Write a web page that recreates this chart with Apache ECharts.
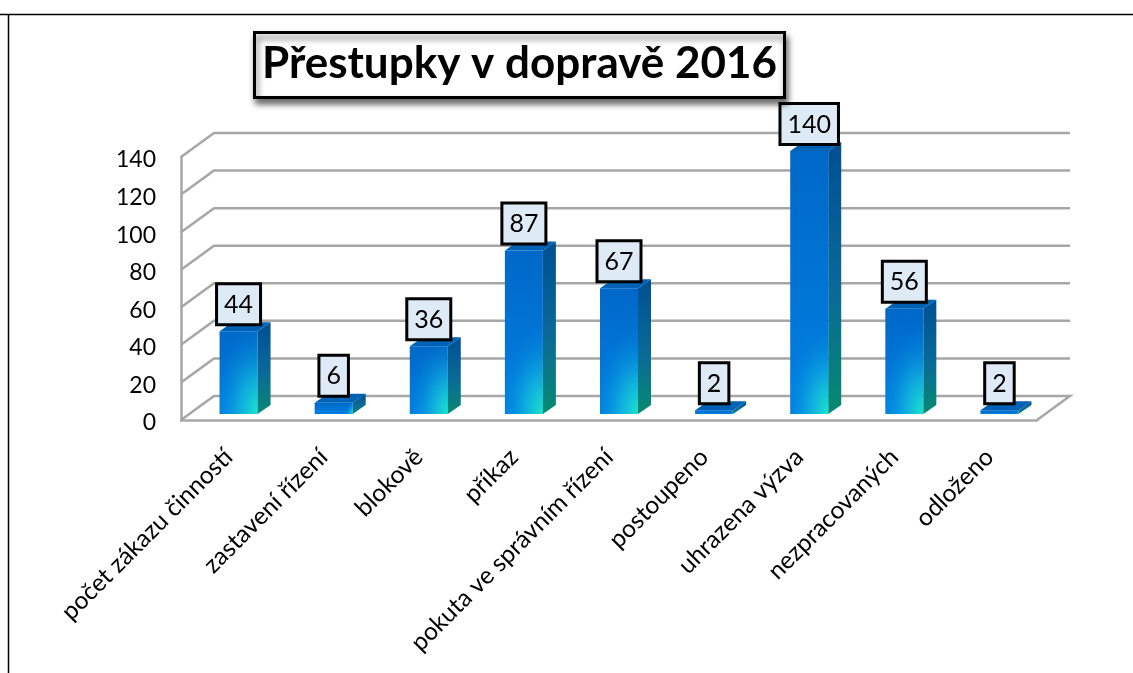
<!DOCTYPE html>
<html lang="cs">
<head>
    <meta charset="UTF-8">
    <title>Přestupky v dopravě 2016</title>
    <script src="https://cdn.jsdelivr.net/npm/echarts@6/dist/echarts.min.js"></script>
    <style>
        html, body { margin: 0; padding: 0; background: #fff; }
        #chart { width: 1133px; height: 673px; }
    </style>
</head>
<body>
<div id="chart"></div>
<script>
    var titleText = 'Přestupky v dopravě 2016';
    var categories = ['počet zákazu činností', 'zastavení řízení', 'blokově', 'příkaz',
        'pokuta ve správním řízení', 'postoupeno', 'uhrazena výzva', 'nezpracovaných', 'odloženo'];
    var values = [44, 6, 36, 87, 67, 2, 140, 56, 2];
    var yTicks = [0, 20, 40, 60, 80, 100, 120, 140];

    var fontName = 'Lato';
    var depthX = 33, depthY = 24;      // hloubka steny grafu
    var barDX = 13, barDY = 9;         // hloubka sloupce
    var barShiftX = 10, barShiftY = 6; // sloupec stoji uprostred podlahy
    var barWidth = 38;
    var gridColor = '#a6a6a6';

    // mrizka na zadni stene
    function renderWall(params, api) {
        var tick = api.value(1);
        var cs = params.coordSys;
        var y = api.coord([0, tick])[1];
        var left = cs.x;
        var right = cs.x + cs.width;
        var points = [[left, y], [left + depthX, y - depthY], [right + depthX, y - depthY]];
        if (tick === 0) {
            points.push([right, y]);
        }
        return {
            type: 'polyline',
            shape: { points: points },
            style: { fill: null, stroke: gridColor, lineWidth: 2.5 }
        };
    }

    function renderBar(params, api) {
        var base = api.coord([api.value(0), 0]);
        var top = api.coord([api.value(0), api.value(1)]);
        var x0 = base[0] + barShiftX - barWidth / 2;
        var x1 = x0 + barWidth;
        var yb = base[1] - barShiftY;
        var yt = top[1] - barShiftY;
        var h = yb - yt;
        var glow = Math.min(h, 110) / 2;  // zari v rohu, natazene na dvojnasobek
        return {
            type: 'group',
            children: [
                {
                    type: 'polygon',
                    shape: { points: [[x1, yt], [x1 + barDX, yt - barDY], [x1 + barDX, yb - barDY], [x1, yb]] },
                    style: {
                        fill: new echarts.graphic.LinearGradient(0, 0, 0, 1, [
                            { offset: 0, color: '#004f93' },
                            { offset: 0.55, color: '#0a6a98' },
                            { offset: 1, color: '#078a70' }
                        ])
                    }
                },
                {
                    type: 'polygon',
                    shape: { points: [[x0, yt], [x0 + barDX, yt - barDY], [x1 + barDX, yt - barDY], [x1, yt]] },
                    style: { fill: '#0062b4' }
                },
                {
                    type: 'rect',
                    shape: { x: x0, y: yt, width: barWidth, height: h },
                    style: {
                        fill: new echarts.graphic.LinearGradient(0, 0, 0, 1, [
                            { offset: 0, color: '#0068c8' },
                            { offset: 1, color: '#0080e2' }
                        ])
                    }
                },
                {
                    type: 'rect',
                    shape: { x: x0, y: yb - glow, width: barWidth, height: glow },
                    originX: x0,
                    originY: yb,
                    scaleY: 2,
                    style: {
                        fill: new echarts.graphic.RadialGradient(1, 1, 1.2, [
                            { offset: 0, color: 'rgba(26,230,204,1)' },
                            { offset: 0.4, color: 'rgba(26,210,220,0.55)' },
                            { offset: 1, color: 'rgba(0,128,226,0)' }
                        ])
                    }
                },
                {
                    type: 'text',
                    z2: 10,
                    style: {
                        text: String(api.value(1)),
                        x: (x0 + x1) / 2,
                        y: yt - barDY + 1,
                        align: 'center',
                        verticalAlign: 'bottom',
                        font: '25px ' + fontName,
                        lineHeight: 27,
                        fill: '#000',
                        backgroundColor: '#deeaf6',
                        borderColor: '#000',
                        borderWidth: 3,
                        padding: [6, 6, 5, 6]
                    }
                }
            ]
        };
    }

    var chart = echarts.init(document.getElementById('chart'), null, { renderer: 'canvas' });

    chart.setOption({
        animation: false,
        backgroundColor: '#fff',
        title: {
            text: titleText,
            left: 254,
            top: 32,
            padding: [9, 8, 11, 8],
            backgroundColor: '#fff',
            borderColor: '#000',
            borderWidth: 3,
            shadowColor: 'rgba(0,0,0,0.55)',
            shadowBlur: 6,
            shadowOffsetX: 2,
            shadowOffsetY: 5,
            textStyle: { fontFamily: fontName, fontWeight: 'bold', fontSize: 44, color: '#000', lineHeight: 46 }
        },
        grid: { left: 181, right: 96, top: 157, bottom: 253, containLabel: false },
        xAxis: {
            type: 'category',
            data: categories,
            axisLine: { show: true, lineStyle: { color: gridColor, width: 2.5 } },
            axisTick: { show: false },
            axisLabel: { interval: 0, rotate: 45, margin: 33, fontFamily: fontName, fontSize: 24.5, color: '#000' }
        },
        yAxis: {
            type: 'value',
            min: 0,
            max: 140,
            interval: 20,
            axisLine: { show: true, lineStyle: { color: gridColor, width: 2.5 } },
            axisTick: { show: false },
            splitLine: { show: false },
            axisLabel: { margin: 25, verticalAlign: 'top', lineHeight: 6, fontFamily: fontName, fontSize: 23, color: '#000' }
        },
        graphic: [
            { type: 'line', silent: true, shape: { x1: 0, y1: 14.5, x2: 1133, y2: 14.5 }, style: { stroke: '#000', lineWidth: 1.5 } },
            { type: 'line', silent: true, shape: { x1: 8.5, y1: 14, x2: 8.5, y2: 673 }, style: { stroke: '#000', lineWidth: 1.5 } }
        ],
        series: [
            {
                type: 'custom',
                name: 'mrizka',
                coordinateSystem: 'cartesian2d',
                silent: true,
                z: 1,
                renderItem: renderWall,
                data: yTicks.map(function (t) { return [0, t]; })
            },
            {
                type: 'custom',
                name: 'přestupky',
                coordinateSystem: 'cartesian2d',
                z: 3,
                renderItem: renderBar,
                data: values.map(function (v, i) { return [i, v]; })
            }
        ]
    });
</script>
</body>
</html>
